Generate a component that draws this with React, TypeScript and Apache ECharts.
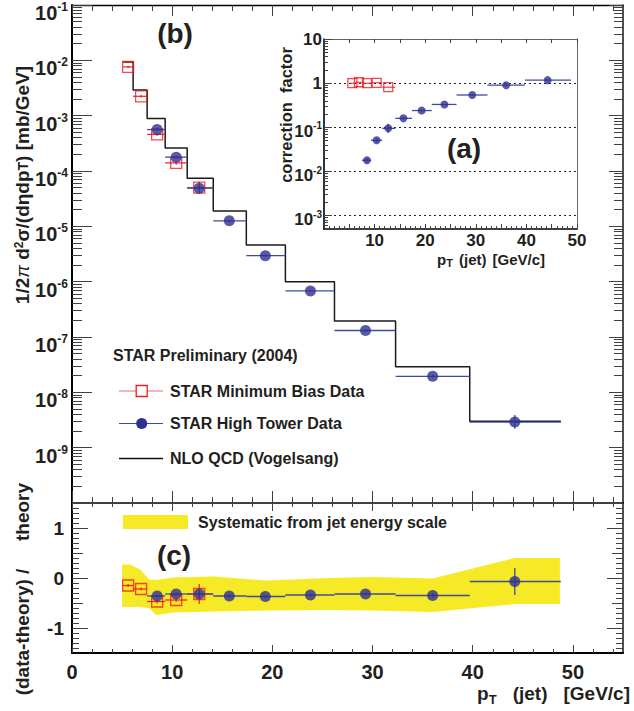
import React, { useEffect, useRef } from 'react';
import * as echarts from 'echarts';

const FONT = "'Liberation Sans', Arial, Helvetica, sans-serif";
const TXT = '#231f20';
const BLUE = '#2e3192';
const BLUE_BAR = '#3d4ca0';
const RED = '#ed1c24';
const YELLOW = '#f6e926';
const TICK = '#404040';

// ---------------- data ----------------
// jet pT bin edges [GeV/c]
const binEdges = [5.1, 6.1, 7.5, 9.3, 11.5, 14.1, 17.4, 21.3, 26.2, 32.3, 39.7, 48.8];
// NLO QCD (Vogelsang) cross section per bin [mb/GeV]
const nloXsec = [9.3e-3, 2.9e-3, 8.9e-4, 2.6e-4, 7.4e-5, 1.9e-5, 4.6e-6, 1.0e-6, 1.95e-7, 2.9e-8, 3.0e-9];

// STAR Minimum Bias data
const mbPt = [5.6, 6.9, 8.5, 10.4, 12.7];
const mbPtLo = [5.1, 6.1, 7.5, 9.3, 11.5];
const mbPtHi = [6.1, 7.5, 9.3, 11.5, 14.1];
const mbXsec = [7.6e-3, 2.24e-3, 4.6e-4, 1.4e-4, 5.0e-5];
const mbXsecLo = [7.2e-3, 2.1e-3, 4.3e-4, 1.3e-4, 3.9e-5];
const mbXsecHi = [8.0e-3, 2.4e-3, 4.9e-4, 1.5e-4, 6.4e-5];
const mbCorr = [1.0, 1.05, 1.0, 1.02, 0.81];
const mbRatio = [-0.15, -0.22, -0.47, -0.44, -0.32];
const mbRatioLo = [-0.18, -0.25, -0.51, -0.48, -0.52];
const mbRatioHi = [-0.12, -0.19, -0.43, -0.40, -0.12];

// STAR High Tower data
const htPt = [8.5, 10.4, 12.7, 15.7, 19.3, 23.8, 29.3, 36.0, 44.2];
const htPtLo = [7.5, 9.3, 11.5, 14.1, 17.4, 21.3, 26.2, 32.3, 39.7];
const htPtHi = [9.3, 11.5, 14.1, 17.4, 21.3, 26.2, 32.3, 39.7, 48.8];
const htXsec = [5.6e-4, 1.78e-4, 4.9e-5, 1.26e-5, 2.95e-6, 6.8e-7, 1.31e-7, 1.95e-8, 2.9e-9];
const htXsecLo = [5.3e-4, 1.7e-4, 4.6e-5, 1.2e-5, 2.8e-6, 6.5e-7, 1.25e-7, 1.85e-8, 2.2e-9];
const htXsecHi = [5.9e-4, 1.86e-4, 5.2e-5, 1.32e-5, 3.1e-6, 7.1e-7, 1.37e-7, 2.05e-8, 3.9e-9];
const htCorr = [0.018, 0.051, 0.095, 0.16, 0.24, 0.33, 0.54, 0.9, 1.17];
const htCorrLo = [0.016, 0.046, 0.075, 0.15, 0.23, 0.32, 0.52, 0.87, 1.12];
const htCorrHi = [0.02, 0.056, 0.12, 0.17, 0.25, 0.34, 0.56, 0.93, 1.22];
const htRatio = [-0.36, -0.32, -0.32, -0.36, -0.37, -0.34, -0.32, -0.35, -0.07];
const htRatioLo = [-0.39, -0.35, -0.36, -0.39, -0.4, -0.37, -0.35, -0.39, -0.34];
const htRatioHi = [-0.33, -0.29, -0.28, -0.33, -0.34, -0.31, -0.29, -0.31, 0.2];

// systematic band (jet energy scale)
const bandPt = [5.0, 5.8, 6.8, 7.7, 8.4, 10.1, 14.1, 19.4, 25.7, 30.0, 36.0, 44.2, 48.7];
const bandHi = [0.27, 0.27, 0.17, -0.03, -0.04, 0.01, 0.03, -0.05, 0.0, 0.02, -0.01, 0.4, 0.4];
const bandLo = [-0.58, -0.58, -0.58, -0.6, -0.74, -0.69, -0.67, -0.65, -0.64, -0.65, -0.68, -0.52, -0.52];

// axis ticks / labels
const xMajor = [0, 10, 20, 30, 40, 50];
const xMinor = [2, 4, 6, 8, 12, 14, 16, 18, 22, 24, 26, 28, 32, 34, 36, 38, 42, 44, 46, 48, 52, 54];
const mainDecades = [1e-10, 1e-9, 1e-8, 1e-7, 1e-6, 1e-5, 1e-4, 1e-3, 1e-2, 1e-1];
const mainYLabels = [1e-9, 1e-8, 1e-7, 1e-6, 1e-5, 1e-4, 1e-3, 1e-2, 1e-1];
const logSubSteps = [2, 3, 4, 5, 6, 7, 8, 9];
const ratioMajor = [-1, 0, 1];
const ratioHalf = [-0.5, 0.5];
const ratioTenths = [-1.4, -1.3, -1.2, -1.1, -0.9, -0.8, -0.7, -0.6, -0.4, -0.3, -0.2, -0.1,
  0.1, 0.2, 0.3, 0.4, 0.6, 0.7, 0.8, 0.9, 1.1, 1.2, 1.3, 1.4];
const insetXMajor = [0, 5, 10, 15, 20, 25, 30, 35, 40, 45, 50];
const insetXLabels = [10, 20, 30, 40, 50];
const insetDecades = [1e-3, 1e-2, 1e-1, 1, 10];
const insetGrid = [1e-3, 1e-2, 1e-1, 1];

const mainMinor = mainDecades.slice(0, -1).flatMap((d) => logSubSteps.map((m) => d * m));
const insetMinor = [1e-4, 1e-3, 1e-2, 1e-1, 1]
  .flatMap((d) => logSubSteps.map((m) => d * m))
  .filter((v) => v > 5e-4 && v < 10);
const insetXMinor = Array.from({ length: 49 }, (_, i) => i + 1).filter((v) => v % 5 !== 0);

// ---------------- helpers ----------------
const tickStyle = { color: TICK, width: 1 };
const ticks = (values: number[], length: number) => ({
  show: true, inside: true, length, customValues: values, lineStyle: tickStyle,
});
const frame = (color = '#000', width = 1.6) => ({ show: true, onZero: false, lineStyle: { color, width } });

function ax(gridIndex: number, position: string, type: string, min: number, max: number, opts: any = {}) {
  return {
    gridIndex, position, type, min, max,
    ...(type === 'log' ? { logBase: 10 } : {}),
    axisLine: { show: false, onZero: false },
    axisTick: { show: false },
    axisLabel: { show: false },
    splitLine: { show: false },
    axisPointer: { show: false },
    ...opts,
  };
}

const pow10 = (b: string, s: string, plain: string) => (v: number) => {
  const e = Math.round(Math.log10(v));
  if (e === 0) return `{${plain}|1}`;
  if (e === 1) return `{${plain}|10}`;
  return `{${b}|10}{${s}|${e}}`;
};

function errSeries(name: string, xA: number, yA: number, rows: number[][], color: string, width: number, z: number) {
  return {
    name, type: 'custom', xAxisIndex: xA, yAxisIndex: yA, z,
    data: rows,
    encode: { x: [0, 1, 2], y: [3, 4, 5] },
    renderItem: (params: any, api: any) => {
      const x = api.value(0), xl = api.value(1), xh = api.value(2);
      const y = api.value(3), yl = api.value(4), yh = api.value(5);
      const a = api.coord([xl, y]), b = api.coord([xh, y]);
      const c = api.coord([x, yl]), d = api.coord([x, yh]);
      const st = { stroke: color, lineWidth: width };
      return {
        type: 'group',
        children: [
          { type: 'line', shape: { x1: a[0], y1: a[1], x2: b[0], y2: b[1] }, style: st },
          { type: 'line', shape: { x1: c[0], y1: c[1], x2: d[0], y2: d[1] }, style: st },
        ],
      };
    },
  };
}

const squareStyle = { color: 'rgba(255,255,255,0)', borderColor: RED, borderWidth: 1.3 };

function txt(x: number, y: number, text: string, size: number, extra: any = {}, el: any = {}) {
  return {
    type: 'text', x, y, z: 100, ...el,
    style: {
      text, fontSize: size, fontWeight: 'bold', fontFamily: FONT, fill: TXT,
      align: 'left', verticalAlign: 'middle', ...extra,
    },
  };
}

function buildOption() {
  const lbl = (size: number) => ({ fontSize: size, fontWeight: 'bold', fontFamily: FONT, color: TXT });

  const xAxis = [
    // main panel (grid 0)
    ax(0, 'bottom', 'value', 0, 55, { axisLine: frame(), axisTick: ticks(xMajor, 12) }),
    ax(0, 'bottom', 'value', 0, 55, { axisTick: ticks(xMinor, 6) }),
    ax(0, 'top', 'value', 0, 55, { axisLine: frame('#000', 1.4), axisTick: ticks(xMajor, 11) }),
    ax(0, 'top', 'value', 0, 55, { axisTick: ticks(xMinor, 6) }),
    // ratio panel (grid 1)
    ax(1, 'bottom', 'value', 0, 55, {
      axisLine: frame('#000', 2), axisTick: ticks(xMajor, 8),
      axisLabel: { show: true, customValues: xMajor, margin: 9, ...lbl(20) },
    }),
    ax(1, 'bottom', 'value', 0, 55, { axisTick: ticks(xMinor, 4) }),
    ax(1, 'top', 'value', 0, 55, { axisTick: ticks(xMajor, 8) }),
    ax(1, 'top', 'value', 0, 55, { axisTick: ticks(xMinor, 4) }),
    // inset (grid 2)
    ax(2, 'bottom', 'value', 0, 50, {
      axisLine: frame('#000', 1.6), axisTick: ticks(insetXMajor, 5),
      axisLabel: { show: true, customValues: insetXLabels, margin: 3, ...lbl(17) },
    }),
    ax(2, 'bottom', 'value', 0, 50, { axisTick: ticks(insetXMinor, 3) }),
    ax(2, 'top', 'value', 0, 50, { axisLine: frame('#666', 1), axisTick: ticks(insetXMajor, 4) }),
  ];

  const yAxis = [
    // main panel
    ax(0, 'left', 'log', 1e-10, 1e-1, {
      axisLine: frame('#000', 2), axisTick: ticks(mainDecades, 20),
      axisLabel: {
        show: true, customValues: mainYLabels, margin: 4, formatter: pow10('bm', 'sm', 'pm'),
        rich: {
          bm: { ...lbl(20), lineHeight: 36, verticalAlign: 'bottom' },
          sm: { ...lbl(12), padding: [0, 0, 10, 0], verticalAlign: 'bottom' },
          pm: { ...lbl(20), lineHeight: 20 },
        },
      },
    }),
    ax(0, 'left', 'log', 1e-10, 1e-1, { axisTick: ticks(mainMinor, 10) }),
    ax(0, 'right', 'log', 1e-10, 1e-1, { axisLine: frame('#222', 1.6), axisTick: ticks(mainDecades, 14) }),
    ax(0, 'right', 'log', 1e-10, 1e-1, { axisTick: ticks(mainMinor, 9) }),
    // ratio panel
    ax(1, 'left', 'value', -1.5, 1.5, {
      axisLine: frame('#000', 2), axisTick: ticks(ratioMajor, 16),
      axisLabel: { show: true, customValues: ratioMajor, margin: 8, ...lbl(19) },
    }),
    ax(1, 'left', 'value', -1.5, 1.5, { axisTick: ticks(ratioHalf, 11) }),
    ax(1, 'left', 'value', -1.5, 1.5, { axisTick: ticks(ratioTenths, 7) }),
    ax(1, 'right', 'value', -1.5, 1.5, { axisLine: frame('#222', 1.6), axisTick: ticks(ratioMajor, 16) }),
    ax(1, 'right', 'value', -1.5, 1.5, { axisTick: ticks(ratioHalf, 11) }),
    ax(1, 'right', 'value', -1.5, 1.5, { axisTick: ticks(ratioTenths, 7) }),
    // inset
    ax(2, 'left', 'log', 5e-4, 10, {
      axisLine: frame('#000', 1.6), axisTick: ticks(insetDecades, 8),
      axisLabel: {
        show: true, customValues: insetDecades, margin: 2, formatter: pow10('bi', 'si', 'pi'),
        rich: {
          bi: { ...lbl(17), lineHeight: 25, verticalAlign: 'bottom' },
          si: { ...lbl(10), padding: [0, 0, 9, 0], verticalAlign: 'bottom' },
          pi: { ...lbl(17), lineHeight: 17 },
        },
      },
    }),
    ax(2, 'left', 'log', 5e-4, 10, { axisTick: ticks(insetMinor, 4) }),
    ax(2, 'left', 'log', 5e-4, 10, {
      axisTick: { show: false, customValues: insetGrid },
      splitLine: { show: true, lineStyle: { type: [2, 3], color: '#222', width: 1 } },
    }),
    ax(2, 'right', 'log', 5e-4, 10, { axisLine: frame('#666', 1) }),
  ];

  // NLO histogram as step line from bin edges
  const nloLine = binEdges.map((e, i) => [e, nloXsec[Math.min(i, nloXsec.length - 1)]]);

  const series: any[] = [
    // ---- main panel ----
    {
      name: 'NLO QCD (Vogelsang)', type: 'line', xAxisIndex: 0, yAxisIndex: 0, step: 'end',
      data: nloLine, symbol: 'none', lineStyle: { color: '#1a1a1a', width: 1.5 }, z: 2,
    },
    errSeries('STAR Minimum Bias Data (err)', 0, 0,
      mbPt.map((x, i) => [x, mbPtLo[i], mbPtHi[i], mbXsec[i], mbXsecLo[i], mbXsecHi[i]]), RED, 1.2, 3),
    {
      name: 'STAR Minimum Bias Data', type: 'scatter', xAxisIndex: 0, yAxisIndex: 0, z: 3,
      symbol: 'rect', symbolSize: 11, itemStyle: squareStyle,
      data: mbPt.map((x, i) => [x, mbXsec[i]]),
    },
    errSeries('STAR High Tower Data (err)', 0, 0,
      htPt.map((x, i) => [x, htPtLo[i], htPtHi[i], htXsec[i], htXsecLo[i], htXsecHi[i]]), BLUE_BAR, 1.3, 4),
    {
      name: 'STAR High Tower Data', type: 'scatter', xAxisIndex: 0, yAxisIndex: 0, z: 5,
      symbol: 'circle', symbolSize: 11, itemStyle: { color: BLUE },
      data: htPt.map((x, i) => [x, htXsec[i]]),
    },
    // ---- ratio panel ----
    {
      name: 'Systematic from jet energy scale', type: 'custom', xAxisIndex: 4, yAxisIndex: 4, z: 1,
      data: bandPt.map((x, i) => [x, bandHi[i], bandLo[i]]),
      encode: { x: 0, y: [1, 2] },
      renderItem: (params: any, api: any) => {
        if (params.dataIndex !== 0) return null;
        const pts: number[][] = [];
        bandPt.forEach((x, i) => pts.push(api.coord([x, bandHi[i]])));
        for (let i = bandPt.length - 1; i >= 0; i--) pts.push(api.coord([bandPt[i], bandLo[i]]));
        return { type: 'polygon', shape: { points: pts }, style: { fill: YELLOW } };
      },
    },
    errSeries('MB ratio (err)', 4, 4,
      mbPt.map((x, i) => [x, mbPtLo[i], mbPtHi[i], mbRatio[i], mbRatioLo[i], mbRatioHi[i]]), RED, 1.2, 3),
    {
      name: 'MB ratio', type: 'scatter', xAxisIndex: 4, yAxisIndex: 4, z: 3,
      symbol: 'rect', symbolSize: 11, itemStyle: squareStyle,
      data: mbPt.map((x, i) => [x, mbRatio[i]]),
    },
    errSeries('HT ratio (err)', 4, 4,
      htPt.map((x, i) => [x, htPtLo[i], htPtHi[i], htRatio[i], htRatioLo[i], htRatioHi[i]]), BLUE_BAR, 1.3, 4),
    {
      name: 'HT ratio', type: 'scatter', xAxisIndex: 4, yAxisIndex: 4, z: 5,
      symbol: 'circle', symbolSize: 11, itemStyle: { color: BLUE },
      data: htPt.map((x, i) => [x, htRatio[i]]),
    },
    // ---- inset ----
    errSeries('MB correction (err)', 8, 10,
      mbPt.map((x, i) => [x, mbPtLo[i], mbPtHi[i], mbCorr[i], mbCorr[i], mbCorr[i]]), RED, 1, 3),
    {
      name: 'MB correction', type: 'scatter', xAxisIndex: 8, yAxisIndex: 10, z: 3,
      symbol: 'rect', symbolSize: 9, itemStyle: squareStyle,
      data: mbPt.map((x, i) => [x, mbCorr[i]]),
    },
    errSeries('HT correction (err)', 8, 10,
      htPt.map((x, i) => [x, htPtLo[i], htPtHi[i], htCorr[i], htCorrLo[i], htCorrHi[i]]), BLUE_BAR, 1.3, 4),
    {
      name: 'HT correction', type: 'scatter', xAxisIndex: 8, yAxisIndex: 10, z: 5,
      symbol: 'circle', symbolSize: 8, itemStyle: { color: BLUE },
      data: htPt.map((x, i) => [x, htCorr[i]]),
    },
  ];

  const richG = (size: number) => ({ fontSize: size, fontWeight: 'bold', fontFamily: FONT, fill: TXT });

  const graphic = [
    txt(175, 33, '(b)', 28, { align: 'center' }),
    txt(464, 148, '(a)', 28, { align: 'center' }),
    txt(174, 555, '(c)', 28, { align: 'center' }),
    txt(113, 355, 'STAR Preliminary (2004)', 16),
    // legend rows
    { type: 'line', z: 100, shape: { x1: 119, y1: 391, x2: 163, y2: 391 }, style: { stroke: '#ef6a6a', lineWidth: 1.2 } },
    { type: 'rect', z: 101, shape: { x: 136.2, y: 385.5, width: 11, height: 11 }, style: { fill: '#fff', stroke: RED, lineWidth: 1.3 } },
    txt(170, 391, 'STAR Minimum Bias Data', 16),
    { type: 'line', z: 100, shape: { x1: 119, y1: 423.5, x2: 163, y2: 423.5 }, style: { stroke: BLUE_BAR, lineWidth: 1.2 } },
    { type: 'circle', z: 101, shape: { cx: 141.7, cy: 423.5, r: 5.5 }, style: { fill: BLUE } },
    txt(170, 423.5, 'STAR High Tower Data', 16),
    { type: 'line', z: 100, shape: { x1: 119, y1: 458.5, x2: 163, y2: 458.5 }, style: { stroke: '#111', lineWidth: 1.3 } },
    txt(170, 458.5, 'NLO QCD (Vogelsang)', 16),
    // systematic legend
    { type: 'rect', z: 100, shape: { x: 123, y: 515, width: 65, height: 14 }, style: { fill: YELLOW } },
    txt(198, 522, 'Systematic from jet energy scale', 16),
    // axis titles
    txt(22, 185, '{n|1/2}{pi|π}{n| d}{sp|2}{n|σ/(dηdp}{sb|T}{n|) [mb/GeV]}', 19, {
      align: 'center',
      rich: {
        n: { ...richG(19), lineHeight: 19, padding: [5, 0, 5, 0], verticalAlign: 'middle' },
        pi: { fontSize: 19, fontStyle: 'italic', fontFamily: FONT, fill: TXT, lineHeight: 19, padding: [5, 0, 5, 0], verticalAlign: 'middle' },
        sp: { ...richG(12), lineHeight: 12, verticalAlign: 'top' },
        sb: { ...richG(14), lineHeight: 14, padding: [0, 0, 2, 0], verticalAlign: 'bottom' },
      },
    }, { rotation: Math.PI / 2 }),
    txt(286, 115, 'correction  factor', 16.5, { align: 'center' }, { rotation: Math.PI / 2 }),
    txt(22, 512, 'theory', 19, { align: 'center' }, { rotation: Math.PI / 2 }),
    txt(22, 632, '(data-theory) /', 19, { align: 'center' }, { rotation: Math.PI / 2 }),
    txt(630, 695, '{p|p}{t|T}{w|(jet)}{w|[GeV/c]}', 19, {
      align: 'right',
      rich: {
        p: { ...richG(19), lineHeight: 22, padding: [0, 0, 8, 0], verticalAlign: 'top' },
        t: { ...richG(13), lineHeight: 14, verticalAlign: 'bottom' },
        w: { ...richG(19), lineHeight: 22, padding: [0, 0, 8, 16], verticalAlign: 'top' },
      },
    }),
    txt(545, 260, '{p|p}{t|T}{w|(jet)}{w|[GeV/c]}', 15, {
      align: 'right',
      rich: {
        p: { ...richG(15), lineHeight: 17, padding: [0, 0, 6, 0], verticalAlign: 'top' },
        t: { ...richG(11), lineHeight: 11, verticalAlign: 'bottom' },
        w: { ...richG(15), lineHeight: 17, padding: [0, 0, 6, 6], verticalAlign: 'top' },
      },
    }),
  ];

  return {
    animation: false,
    backgroundColor: '#fff',
    textStyle: { fontFamily: FONT },
    grid: [
      { left: 72, top: 5, width: 551, height: 498, containLabel: false, outerBoundsMode: 'none' },
      { left: 72, top: 503, width: 551, height: 150, containLabel: false, outerBoundsMode: 'none' },
      { left: 324, top: 39, width: 253, height: 190, containLabel: false, outerBoundsMode: 'none', show: true, backgroundColor: '#fff', borderWidth: 0, z: 0 },
    ],
    xAxis, yAxis, series, graphic,
  };
}

export default function App() {
  const ref = useRef<HTMLDivElement>(null);
  useEffect(() => {
    if (!ref.current) return;
    const chart = echarts.init(ref.current, null, { renderer: 'svg' });
    chart.setOption(buildOption() as any);
    return () => chart.dispose();
  }, []);
  return (
    <div
      ref={ref}
      style={{ position: 'fixed', left: 0, top: 0, width: 634, height: 711, background: '#fff' }}
    />
  );
}
